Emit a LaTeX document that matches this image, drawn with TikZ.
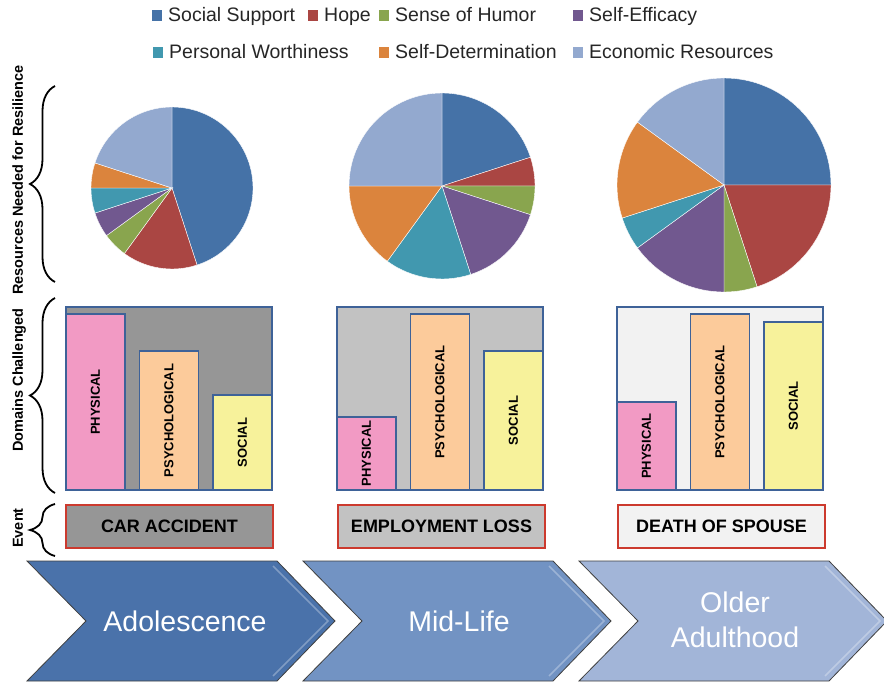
\documentclass[tikz,border=0pt]{standalone}
\usepackage{fontspec}
\setmainfont{Liberation Sans}
\usetikzlibrary{decorations.pathreplacing}
\definecolor{socsup}{HTML}{4572A7}
\definecolor{hope}{HTML}{AA4643}
\definecolor{humor}{HTML}{89A54E}
\definecolor{effic}{HTML}{71588F}
\definecolor{worth}{HTML}{4198AF}
\definecolor{determ}{HTML}{DB843D}
\definecolor{econ}{HTML}{93A9CF}
\definecolor{framecol}{HTML}{3E6298}
\definecolor{physcol}{HTML}{F29AC4}
\definecolor{psychcol}{HTML}{FCCB9B}
\definecolor{soccol}{HTML}{F7F29B}
\definecolor{eventcol}{HTML}{CC3A2E}
\definecolor{chevA}{HTML}{4A72AA}
\definecolor{chevB}{HTML}{7293C3}
\definecolor{chevC}{HTML}{A2B5D8}
\tikzset{my key/.style={minimum width=10pt, minimum height=11pt, inner sep=0pt},
my legend/.style={anchor=base west, inner sep=0pt, text=black!85, font=\fontsize{19.5}{22}\selectfont},
my side/.style={anchor=base, rotate=90, inner sep=0pt, font=\fontsize{14.5}{16}\selectfont\bfseries},
my brace/.style={decorate, decoration={brace, amplitude=25pt}, line width=1.8pt},
my frame/.style={draw=framecol, line width=1.5pt, minimum width=206pt, minimum height=183pt, inner sep=0pt},
my bar/.style={draw=framecol, line width=1.5pt, rotate=90, minimum height=59pt, inner sep=0pt, font=\fontsize{13}{15}\selectfont\bfseries},
my event/.style={draw=eventcol, line width=1.5pt, minimum width=207pt, minimum height=43pt, font=\fontsize{18}{20}\selectfont\bfseries},
my chevron/.style={draw=black!75, line width=0.8pt},
my stage/.style={text=white, align=center, font=\fontsize{28.5}{35}\selectfont},}

\begin{document}
\begin{tikzpicture}[x=1pt, y=-1pt]
\useasboundingbox (0,0) rectangle (884,684);
% legend
\node [my key, fill=socsup] (ksocsup) at (157,16) {};
\node [my legend] (lsocsup) at (168,22) {Social Support};
\node [my key, fill=hope] (khope) at (313,16) {};
\node [my legend] (lhope) at (324,22) {Hope};
\node [my key, fill=humor] (khumor) at (384,16) {};
\node [my legend] (lhumor) at (395,22) {Sense of Humor};
\node [my key, fill=effic] (keffic) at (578,16) {};
\node [my legend] (leffic) at (589,22) {Self-Efficacy};
\node [my key, fill=worth] (kworth) at (158,53) {};
\node [my legend] (lworth) at (169,59) {Personal Worthiness};
\node [my key, fill=determ] (kdeterm) at (384,53) {};
\node [my legend] (ldeterm) at (395,59) {Self-Determination};
\node [my key, fill=econ] (kecon) at (578,53) {};
\node [my legend] (lecon) at (589,59) {Economic Resources};

% side labels and braces
\node [my side] (resources) at (23,180) {Resources Needed for Resilience};
\node [my side] (domains) at (23,380) {Domains Challenged};
\node [my side] (event) at (23,528) {Event};
\draw [my brace] (55,282) -- (55,86);
\draw [my brace] (55,493) -- (55,298);
\draw [my brace] (55,556) -- (55,504);

% pies
\begin{scope}[shift={(172,188)}, yscale=-1]
\foreach \a/\b/\c in {90/-72/socsup, -72/-126/hope, -126/-144/humor, -144/-162/effic, -162/-180/worth, -180/-198/determ, -198/-270/econ}
  \filldraw [fill=\c, draw=white, line width=0.4pt] (0,0) -- (\a:81) arc [start angle=\a, end angle=\b, radius=81] -- cycle;
\end{scope}
\begin{scope}[shift={(442,186)}, yscale=-1]
\foreach \a/\b/\c in {90/18/socsup, 18/0/hope, 0/-18/humor, -18/-72/effic, -72/-126/worth, -126/-180/determ, -180/-270/econ}
  \filldraw [fill=\c, draw=white, line width=0.4pt] (0,0) -- (\a:93) arc [start angle=\a, end angle=\b, radius=93] -- cycle;
\end{scope}
\begin{scope}[shift={(724,185)}, yscale=-1]
\foreach \a/\b/\c in {90/0/socsup, 0/-72/hope, -72/-90/humor, -90/-144/effic, -144/-162/worth, -162/-216/determ, -216/-270/econ}
  \filldraw [fill=\c, draw=white, line width=0.4pt] (0,0) -- (\a:107) arc [start angle=\a, end angle=\b, radius=107] -- cycle;
\end{scope}

% domains challenged
\node [my frame, fill=black!41] (carframe) at (169,398.5) {};
\node [my bar, fill=physcol, minimum width=176pt] (carphys) at (95.5,402) {PHYSICAL};
\node [my bar, fill=psychcol, minimum width=139pt] (carpsych) at (169,420.5) {PSYCHOLOGICAL};
\node [my bar, fill=soccol, minimum width=95pt] (carsoc) at (242.5,442.5) {SOCIAL};
\node [my frame, fill=black!24] (empframe) at (440,398.5) {};
\node [my bar, fill=physcol, minimum width=73pt] (empphys) at (366.5,453.5) {PHYSICAL};
\node [my bar, fill=psychcol, minimum width=176pt] (emppsych) at (440,402) {PSYCHOLOGICAL};
\node [my bar, fill=soccol, minimum width=139pt] (empsoc) at (513.5,420.5) {SOCIAL};
\node [my frame, fill=black!5] (deathframe) at (720,398.5) {};
\node [my bar, fill=physcol, minimum width=88pt] (deathphys) at (646.5,446) {PHYSICAL};
\node [my bar, fill=psychcol, minimum width=176pt] (deathpsych) at (720,402) {PSYCHOLOGICAL};
\node [my bar, fill=soccol, minimum width=168pt] (deathsoc) at (793.5,406) {SOCIAL};

% events
\node [my event, fill=black!41] (carevent) at (169.5,526.5) {CAR ACCIDENT};
\node [my event, fill=black!24] (empevent) at (441.5,526.5) {EMPLOYMENT LOSS};
\node [my event, fill=black!5] (deathevent) at (721.5,526.5) {DEATH OF SPOUSE};

% life stages
\foreach \dx/\c in {0/chevA, 276/chevB, 552/chevC} {
  \filldraw [my chevron, fill=\c] (\dx+27,561) -- (\dx+277,561) -- (\dx+335,621) -- (\dx+277,681) -- (\dx+27,681) -- (\dx+86,621) -- cycle;
  \draw [white, opacity=0.3, line width=1.5pt] (\dx+273,566) -- (\dx+328,621) -- (\dx+273,676);
}
\node [my stage] (adolescence) at (185,621) {Adolescence};
\node [my stage] (midlife) at (459,621) {Mid-Life};
\node [my stage] (older) at (735,620) {Older\\Adulthood};
\end{tikzpicture}
\end{document}
